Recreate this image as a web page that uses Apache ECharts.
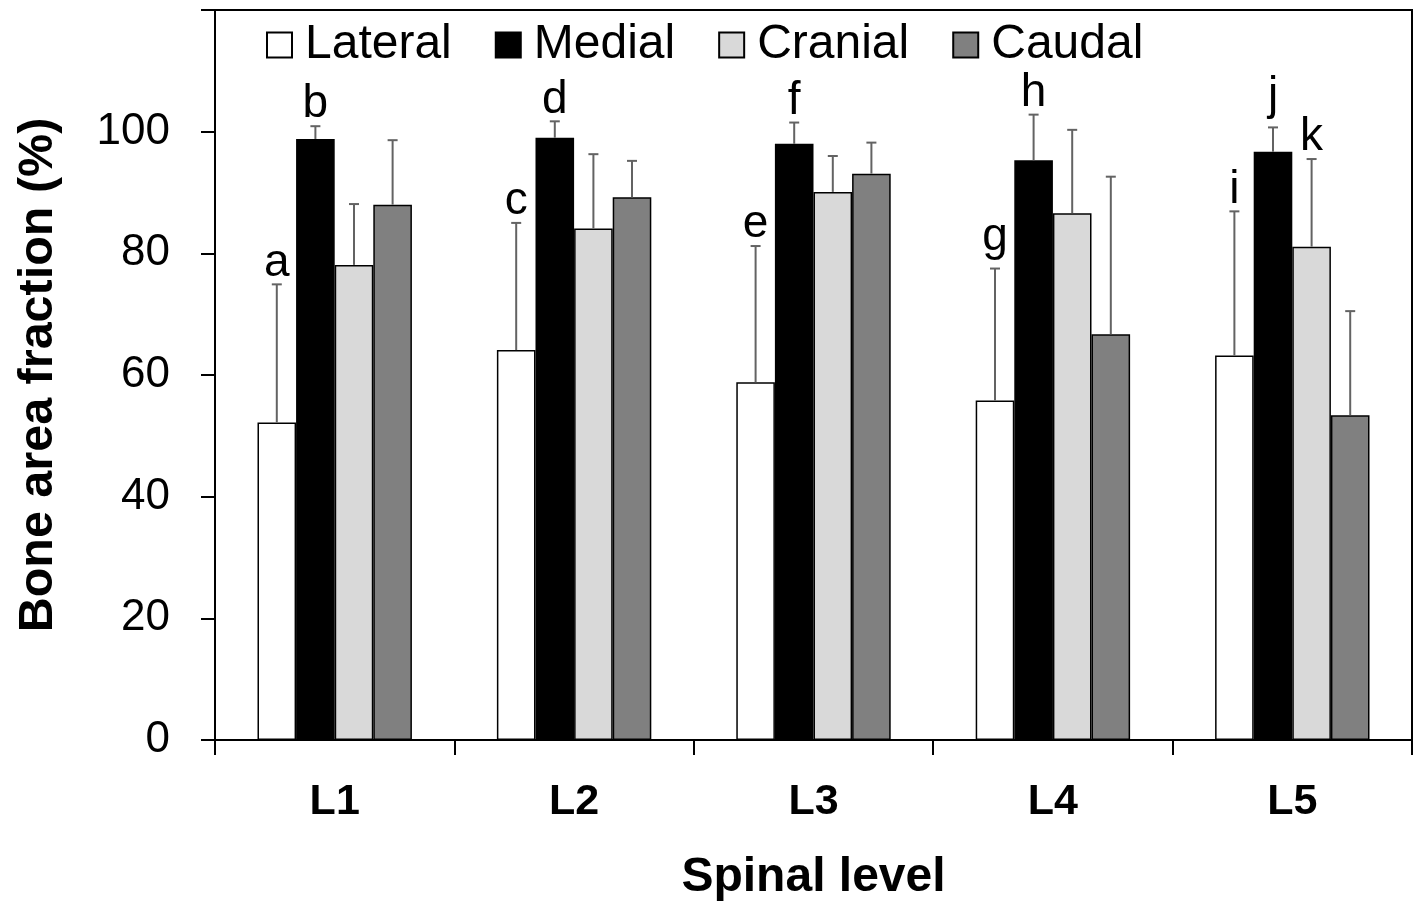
<!DOCTYPE html>
<html>
<head>
<meta charset="utf-8">
<script src="https://cdn.jsdelivr.net/npm/echarts@6/dist/echarts.min.js"></script>
<style>
html,body{margin:0;padding:0;background:#fff;}
#chart{width:1418px;height:907px;}
</style>
</head>
<body>
<div id="chart"></div>
<script>
const categories = ['L1', 'L2', 'L3', 'L4', 'L5'];
const seriesNames = ['Lateral', 'Medial', 'Cranial', 'Caudal'];
const lateral = [52.2, 64.1, 58.8, 55.8, 63.2];
const medial = [98.8, 99.0, 98.0, 95.3, 96.7];
const cranial = [78.1, 84.1, 90.1, 86.6, 81.1];
const caudal = [88.0, 89.2, 93.1, 66.7, 53.4];
const lateralSD = [22.7, 20.9, 22.4, 21.7, 23.7];
const medialSD = [2.1, 2.7, 3.5, 7.5, 4.0];
const cranialSD = [10.0, 12.2, 5.9, 13.7, 14.4];
const caudalSD = [10.6, 6.0, 5.1, 25.9, 17.1];
const lateralLetters = ['a', 'c', 'e', 'g', 'i'];
const medialLetters = ['b', 'd', 'f', 'h', 'j'];
const cranialLetters = ['', '', '', '', 'k'];
const caudalLetters = ['', '', '', '', ''];
const yTicks = [0, 20, 40, 60, 80, 100];

const means = [lateral, medial, cranial, caudal];
const sds = [lateralSD, medialSD, cranialSD, caudalSD];
const letters = [lateralLetters, medialLetters, cranialLetters, caudalLetters];
const fills = ['#ffffff', '#000000', '#d9d9d9', '#808080'];
const CAT_GAP = 0.355;
const LETTER_SIZE = 46;

const errData = [];
means.forEach((arr, s) => {
  arr.forEach((v, c) => {
    errData.push([c, v + sds[s][c], s, v, letters[s][c]]);
  });
});

const barSeries = means.map((arr, s) => ({
  name: seriesNames[s],
  type: 'bar',
  data: arr,
  barGap: '0%',
  barCategoryGap: (CAT_GAP * 100) + '%',
  itemStyle: { color: fills[s], borderColor: '#000', borderWidth: 1.5 },
  emphasis: { disabled: true },
  animation: false,
  z: 2
}));

const errSeries = {
  type: 'custom',
  data: errData,
  encode: { x: 0, y: 1 },
  z: 5,
  animation: false,
  renderItem: function (params, api) {
    const c = api.value(0);
    const top = api.value(1);
    const s = api.value(2);
    const mean = api.value(3);
    const letter = errData[params.dataIndex][4];
    const band = api.size([1, 0])[0];
    const total = band * (1 - CAT_GAP);
    const bw = total / 4;
    const center = api.coord([c, mean]);
    const x = center[0] - total / 2 + (s + 0.5) * bw;
    const yMean = center[1];
    const yTop = api.coord([c, top])[1];
    const cap = 5;
    const st = { stroke: '#636363', lineWidth: 2 };
    const children = [
      { type: 'line', shape: { x1: x, y1: yMean, x2: x, y2: yTop }, style: st },
      { type: 'line', shape: { x1: x - cap, y1: yTop, x2: x + cap, y2: yTop }, style: st }
    ];
    if (letter) {
      // keep the ink bottom of the letter (descender included) a fixed gap above the cap
      const desc = /[gjpqy]/.test(letter) ? 0.21 * LETTER_SIZE : 0;
      children.push({
        type: 'text',
        style: {
          text: letter, x: x, y: yTop - 21.5 - desc,
          align: 'center', verticalAlign: 'middle',
          font: LETTER_SIZE + 'px "Liberation Sans", Arial, sans-serif', fill: '#000'
        }
      });
    }
    return { type: 'group', children: children };
  }
};

const chart = echarts.init(document.getElementById('chart'), null, { renderer: 'canvas' });
chart.setOption({
  backgroundColor: '#fff',
  animation: false,
  grid: {
    left: 215, right: 6, top: 10, bottom: 162,
    show: true, borderColor: '#000', borderWidth: 2, backgroundColor: 'transparent'
  },
  legend: {
    data: seriesNames,
    left: 266, top: 21, padding: 0,
    itemWidth: 25, itemHeight: 25, itemGap: 43,
    icon: 'rect',
    selectedMode: false,
    textStyle: { fontSize: 48, color: '#000', fontFamily: '"Liberation Sans", Arial, sans-serif', padding: [0, 0, 0, 8] }
  },
  xAxis: {
    type: 'category',
    data: categories,
    name: 'Spinal level',
    nameLocation: 'middle',
    nameGap: 114,
    nameTextStyle: { fontSize: 48, fontWeight: 'bold', color: '#000', fontFamily: '"Liberation Sans", Arial, sans-serif' },
    axisLine: { lineStyle: { color: '#000', width: 2 } },
    axisTick: { show: true, length: 15, lineStyle: { color: '#000', width: 2 } },
    axisLabel: { margin: 41, fontSize: 43, fontWeight: 'bold', color: '#000', fontFamily: '"Liberation Sans Narrow", "Liberation Sans", Arial, sans-serif' },
    splitLine: { show: false }
  },
  yAxis: {
    type: 'value',
    min: 0, max: 120, interval: 20,
    name: 'Bone area fraction (%)',
    nameLocation: 'middle',
    nameGap: 152,
    nameTextStyle: { fontSize: 48.5, fontWeight: 'bold', color: '#000', fontFamily: '"Liberation Sans", Arial, sans-serif' },
    axisLine: { show: true, lineStyle: { color: '#000', width: 2 } },
    axisTick: { show: true, length: 14, lineStyle: { color: '#000', width: 2 } },
    axisLabel: {
      margin: 45, fontSize: 44, color: '#000', fontFamily: '"Liberation Sans", Arial, sans-serif',
      formatter: function (v) { return yTicks.indexOf(v) >= 0 ? String(v) : ''; }
    },
    splitLine: { show: false }
  },
  series: barSeries.concat([errSeries])
});
</script>
</body>
</html>
